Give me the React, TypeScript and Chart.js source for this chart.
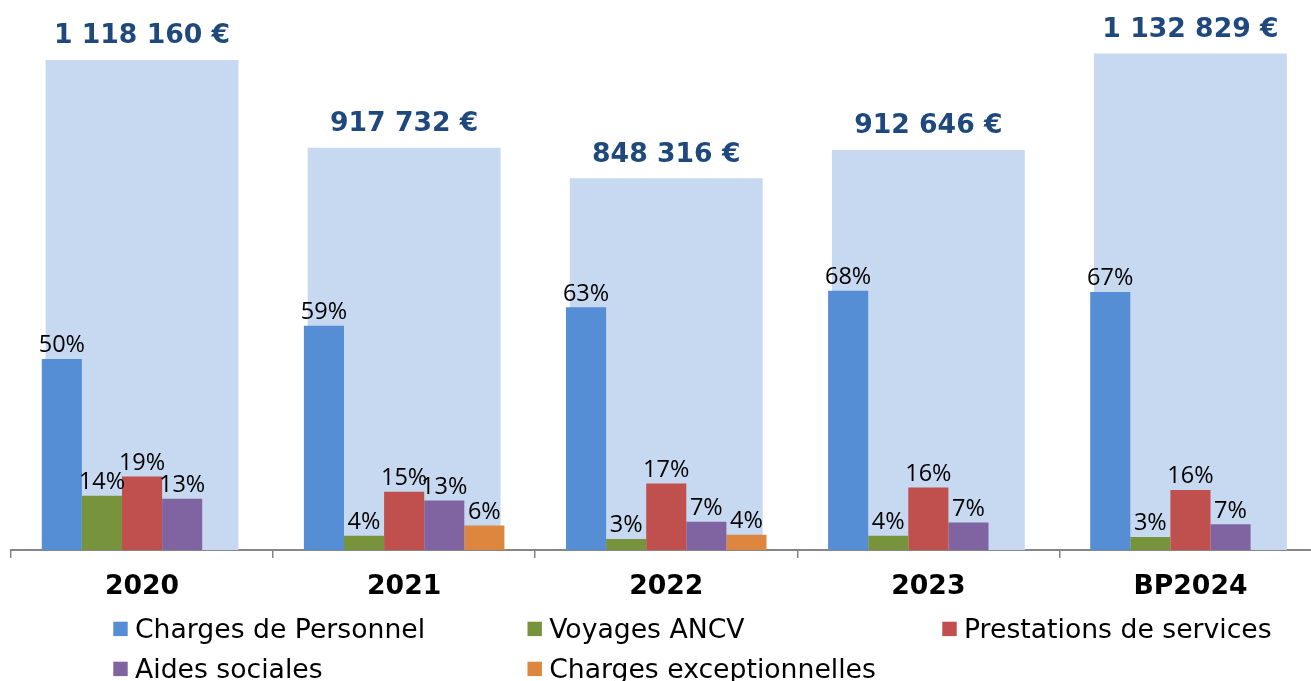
import React, { useEffect, useRef } from "react";
import { Chart, registerables } from "chart.js";

Chart.register(...registerables);

// ---- Data ----
const categories = ["2020", "2021", "2022", "2023", "BP2024"];
const totals = [1118160, 917732, 848316, 912646, 1132829];

const seriesNames = [
  "Charges de Personnel",
  "Voyages ANCV",
  "Prestations de services",
  "Aides sociales",
  "Charges exceptionnelles",
];
const chargesPersonnel = [49.9, 58.6, 63.4, 67.7, 67.4];
const voyagesANCV = [14.2, 3.7, 2.9, 3.7, 3.4];
const prestationsServices = [19.2, 15.2, 17.4, 16.3, 15.7];
const aidesSociales = [13.4, 12.9, 7.4, 7.2, 6.7];
const chargesExceptionnelles = [null, 6.4, 4.0, null, null];

const seriesColors = ["#558ED5", "#77933C", "#C0504D", "#8064A2", "#DD8640"];
const totalColor = "#C6D9F1";
const totalLabelColor = "#1F497D";

const fmtEuro = (v: number) =>
  String(Math.round(v)).replace(/\B(?=(\d{3})+(?!\d))/g, " ") + " €";

const valueLabelsPlugin = {
  id: "valueLabels",
  afterDatasetsDraw(chart: any) {
    const ctx = chart.ctx;
    ctx.save();
    ctx.textAlign = "center";
    ctx.textBaseline = "alphabetic";
    chart.data.datasets.forEach((ds: any, i: number) => {
      const meta = chart.getDatasetMeta(i);
      meta.data.forEach((el: any, j: number) => {
        const v = ds.data[j];
        if (v == null) return;
        if (ds.yAxisID === "y2") {
          ctx.font = "bold 26.67px 'DejaVu Sans'";
          ctx.fillStyle = totalLabelColor;
          ctx.fillText(fmtEuro(v), el.x, el.y - 16.7);
        } else {
          ctx.font = "23.5px 'Open Sans'";
          ctx.fillStyle = "#000000";
          ctx.fillText(Math.round(v) + "%", el.x, el.y - 6.5);
        }
      });
    });
    ctx.restore();
  },
};

const gridLegendPlugin = {
  id: "gridLegend",
  afterDraw(chart: any) {
    const ctx = chart.ctx;
    const colX = [113.3, 527.5, 942.3];
    const rowTop = [621.7, 661.7];
    const box = 14.4;
    ctx.save();
    ctx.font = "26.67px 'DejaVu Sans'";
    ctx.textAlign = "left";
    ctx.textBaseline = "alphabetic";
    chart.data.datasets.forEach((ds: any, i: number) => {
      if (ds.yAxisID === "y2") return;
      const c = i % 3;
      const r = Math.floor(i / 3);
      const x = colX[c];
      const y = rowTop[r];
      ctx.fillStyle = ds.backgroundColor;
      ctx.fillRect(x, y, box, box);
      ctx.fillStyle = "#000000";
      ctx.fillText(ds.label, x + 21.7, y + 16);
    });
    ctx.restore();
  },
};

export default function App() {
  const canvasRef = useRef<HTMLCanvasElement | null>(null);

  useEffect(() => {
    if (!canvasRef.current) return;
    const seriesData = [
      chargesPersonnel,
      voyagesANCV,
      prestationsServices,
      aidesSociales,
      chargesExceptionnelles,
    ];
    const datasets: any[] = seriesData.map((d, i) => ({
      type: "bar",
      label: seriesNames[i],
      data: d,
      backgroundColor: seriesColors[i],
      borderWidth: 0,
      yAxisID: "y",
      categoryPercentage: 0.765,
      barPercentage: 1,
      order: 0,
    }));
    datasets.push({
      type: "bar",
      label: "Total",
      data: totals,
      backgroundColor: totalColor,
      borderWidth: 0,
      yAxisID: "y2",
      grouped: false,
      categoryPercentage: 0.736,
      barPercentage: 1,
      order: 1,
    });

    const chart = new Chart(canvasRef.current, {
      type: "bar",
      data: { labels: categories, datasets },
      options: {
        responsive: false,
        animation: false,
        layout: { padding: { left: 11, right: 8.5, top: 14, bottom: 71 } },
        plugins: {
          legend: { display: false },
          tooltip: { enabled: false },
        },
        scales: {
          x: {
            offset: true,
            grid: {
              offset: true,
              drawOnChartArea: false,
              drawTicks: true,
              tickLength: 8,
              color: "#868686",
              lineWidth: 1.5,
            },
            border: { display: true, color: "#868686", width: 2 },
            ticks: {
              color: "#000000",
              padding: 13,
              font: { family: "'DejaVu Sans'", size: 26.67, weight: "bold" },
            },
            afterFit: (scale: any) => {
              scale.height = 60;
            },
          },
          y: { display: false, min: 0, max: 140 },
          y2: { display: false, min: 0, max: 1223000 },
        },
      } as any,
      plugins: [valueLabelsPlugin, gridLegendPlugin],
    } as any);

    return () => chart.destroy();
  }, []);

  return (
    <div
      style={{
        position: "fixed",
        left: 0,
        top: 0,
        width: 1311,
        height: 681,
        overflow: "hidden",
        background: "#ffffff",
      }}
    >
      <canvas ref={canvasRef} width={1330} height={681} style={{ display: "block" }} />
    </div>
  );
}
